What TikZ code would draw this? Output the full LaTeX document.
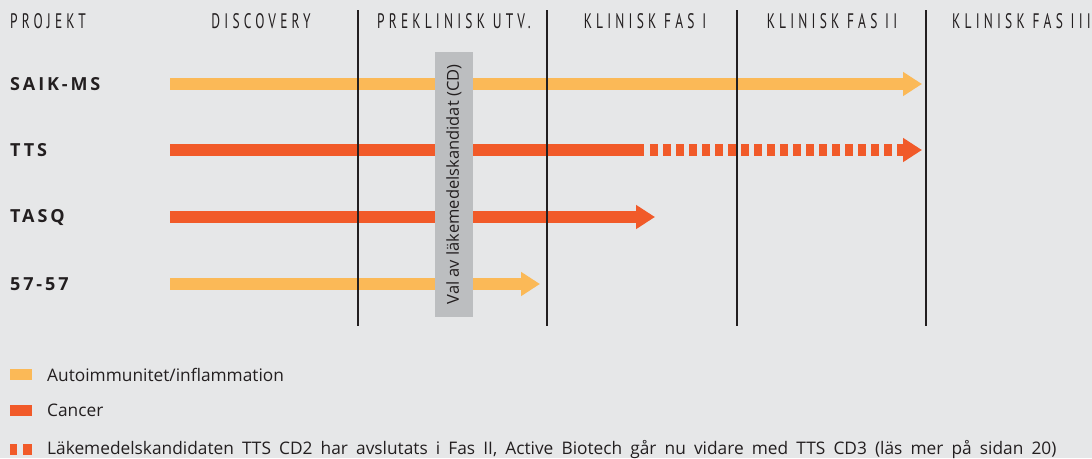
\documentclass[tikz,border=0pt]{standalone}
\usepackage{fontspec}
\setmainfont{Open Sans}
\newfontfamily\headfont[FakeStretch=0.64,LetterSpace=20]{PT Sans}
\newfontfamily\rowfont[LetterSpace=16]{Open Sans Bold}
\usetikzlibrary{arrows.meta}
\definecolor{bg}{HTML}{E6E7E8}
\definecolor{autoc}{HTML}{FBB957}
\definecolor{canc}{HTML}{F15A29}
\definecolor{cdgrey}{HTML}{BCBEC0}
\definecolor{ink}{HTML}{231F20}
\newcommand\mylegfont{\fontsize{17.3}{17.3}\selectfont\spaceskip=0.47em plus 0.1em\relax}
\tikzset{
  head/.style={font=\headfont\fontsize{21}{21}\selectfont, text=ink, inner sep=0pt},
  rowlabel/.style={font=\rowfont\fontsize{18}{18}\selectfont, text=ink, inner sep=0pt, anchor=west},
  phase/.style={draw=ink, line width=1.4pt},
  bar/.style={line width=12pt, -{Triangle[length=19pt,width=23pt]}},
  legtext/.style={font=\mylegfont, text=ink, inner sep=0pt, anchor=west},
}
\begin{document}
\begin{tikzpicture}[x=1pt,y=-1pt]
\fill[bg] (0,0) rectangle (1092,458);
\useasboundingbox (0,0) rectangle (1092,458);
% headers
\node[head, anchor=west] (hp) at (10,21) {PROJEKT};
\node[head] (hd) at (261,21) {DISCOVERY};
\node[head] (hpre) at (454,21) {PREKLINISK UTV.};
\node[head] (h1) at (645,21) {KLINISK FAS I};
\node[head] (h2) at (832,21) {KLINISK FAS II};
\node[head, anchor=west] (h3) at (952,21) {KLINISK FAS III};
% row labels
\node[rowlabel] (r1) at (10,84) {SAIK-MS};
\node[rowlabel] (r2) at (10,150) {TTS};
\node[rowlabel] (r3) at (10,217) {TASQ};
\node[rowlabel] (r4) at (10,284) {57-57};
% coordinates
\coordinate (s1) at (170,84);  \coordinate (e1) at (922,84);
\coordinate (s2) at (170,150); \coordinate (m2) at (644,150);
\coordinate (d2) at (650,150); \coordinate (e2) at (922,150);
\coordinate (s3) at (170,217); \coordinate (e3) at (655,217);
\coordinate (s4) at (170,284); \coordinate (e4) at (540,284);
% bars
\draw[bar, autoc] (s1) -- (e1);
\draw[canc, line width=12pt] (s2) -- (m2);
\draw[bar, canc, dash pattern=on 8pt off 5pt] (d2) -- (e2);
\draw[bar, canc] (s3) -- (e3);
\draw[bar, autoc] (s4) -- (e4);
% phase lines
\foreach \x/\n in {358/a,547/b,737/c,926/d}{
  \coordinate (t\n) at (\x,10); \coordinate (b\n) at (\x,326);
  \draw[phase] (t\n) -- (b\n);
}
% CD box
\node[fill=cdgrey, rotate=90, minimum width=265pt, minimum height=38pt, inner sep=0pt,
      font=\fontsize{16.5}{16.5}\selectfont, text=ink] (cd) at (454,184.5) {Val av läkemedelskandidat (CD)};
% legend
\fill[autoc] (10,369) rectangle (32,380);
\node[legtext] (l1) at (47,374.5) {Autoimmunitet/inflammation};
\fill[canc] (10,405) rectangle (32,416);
\node[legtext] (l2) at (47,410.5) {Cancer};
\fill[canc] (10,444) rectangle (17,455);
\fill[canc] (23,444) rectangle (32,455);
\node[legtext] (l3) at (47,449.5) {Läkemedelskandidaten TTS CD2 har avslutats i Fas II, Active Biotech går nu vidare med TTS CD3 (läs mer på sidan 20)};
\end{tikzpicture}
\end{document}
